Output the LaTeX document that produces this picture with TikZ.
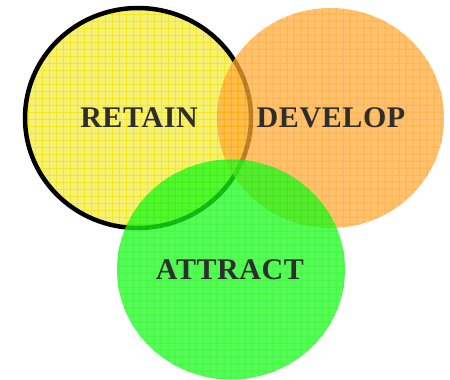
\documentclass[tikz,border=0pt]{standalone}
\usepackage{fontspec}
\setmainfont{Liberation Serif}
\definecolor{ylw}{HTML}{EEE400}
\definecolor{org}{HTML}{FF9A10}
\definecolor{grn}{HTML}{00F800}
\definecolor{txt}{HTML}{2E2E2E}
\tikzset{
  lbl/.style={font=\fontsize{30}{32}\selectfont\bfseries\addfontfeature{LetterSpace=2}, text=txt, inner sep=0pt},
  gridln/.style={line width=1pt}
}
\begin{document}
\begin{tikzpicture}[x=1pt,y=-1pt]
\useasboundingbox (0,0) rectangle (450,380);
% yellow circle
\fill[ylw!55!white] (138,118) ellipse [x radius=113, y radius=110];
\begin{scope}
\clip (138,118) ellipse [x radius=113, y radius=110];
\foreach \g in {0,7,...,450} {\draw[gridln, ylw, opacity=0.6] (\g,0) -- (\g,380); \draw[gridln, ylw, opacity=0.6] (0,\g) -- (450,\g);}
\end{scope}
\draw[line width=4.5pt, black] (138,118) ellipse [x radius=113, y radius=110];
% orange circle
\begin{scope}[transparency group, opacity=0.75]
\fill[org!80!white] (330.5,118) ellipse [x radius=113.5, y radius=110];
\clip (330.5,118) ellipse [x radius=113.5, y radius=110];
\foreach \g in {0,7,...,450} {\draw[gridln, org] (\g,0) -- (\g,380); \draw[gridln, org] (0,\g) -- (450,\g);}
\end{scope}
% green circle
\begin{scope}[transparency group, opacity=0.75]
\fill[grn!88!white] (231,269.5) ellipse [x radius=114, y radius=110];
\clip (231,269.5) ellipse [x radius=114, y radius=110];
\foreach \g in {0,7,...,450} {\draw[gridln, grn] (\g,0) -- (\g,380); \draw[gridln, grn] (0,\g) -- (450,\g);}
\end{scope}
% labels
\node[lbl] (retain) at (139,118) {RETAIN};
\node[lbl] (develop) at (331,118) {DEVELOP};
\node[lbl] (attract) at (230,270) {ATTRACT};
\end{tikzpicture}
\end{document}
